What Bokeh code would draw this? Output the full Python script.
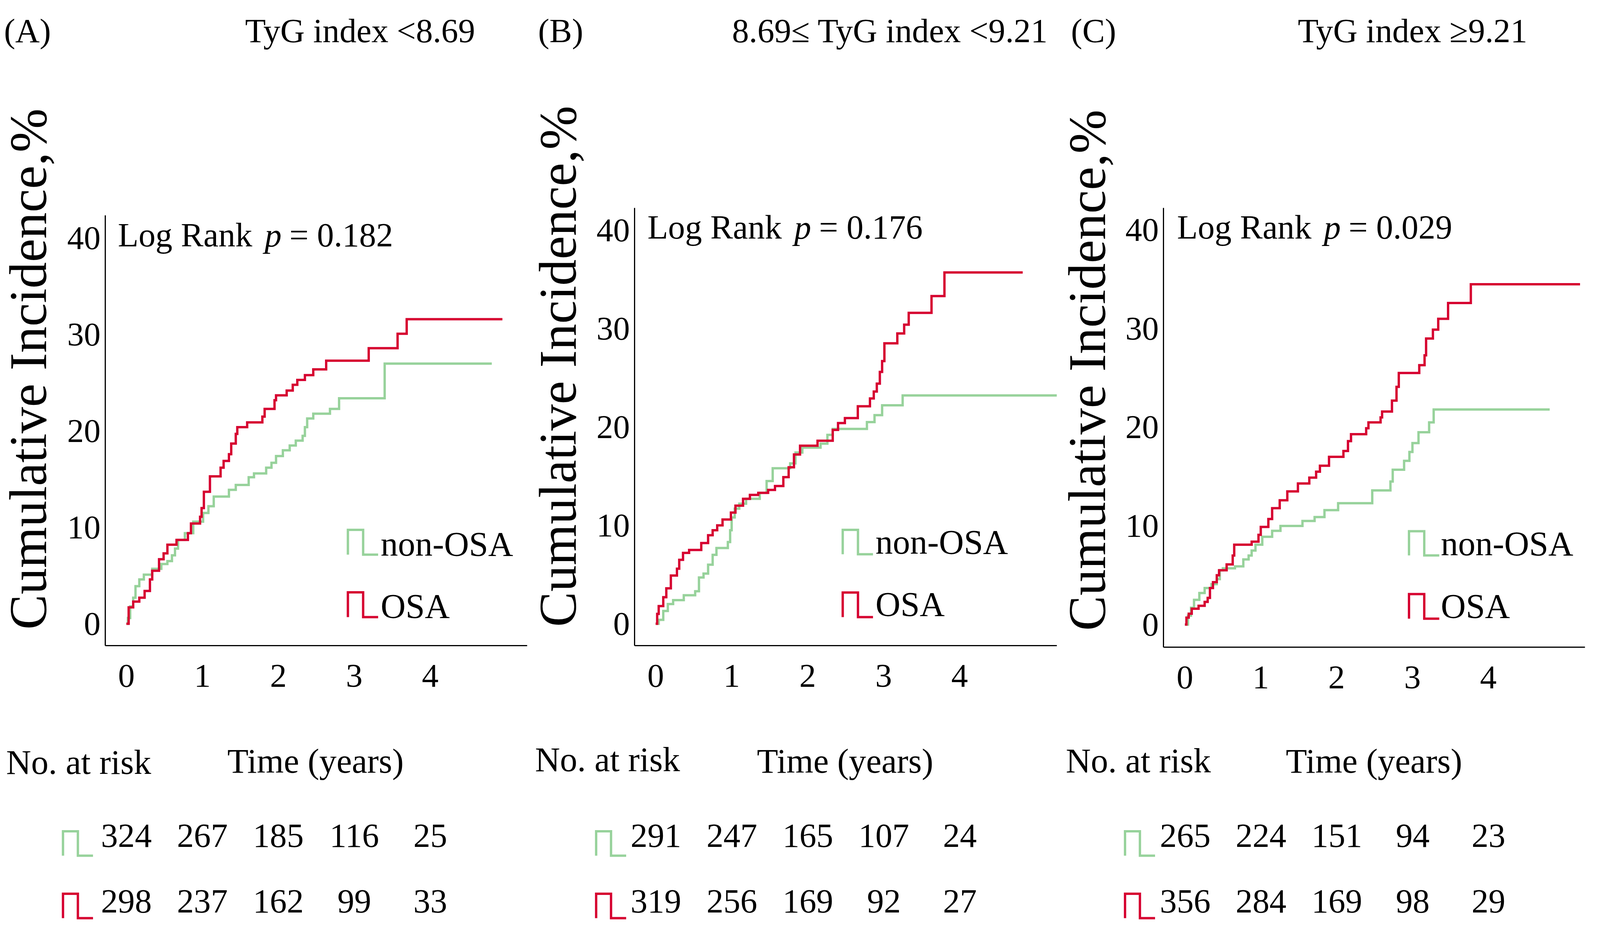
import math
from bokeh.plotting import figure
from bokeh.models import FixedTicker, Range1d
from bokeh.core.properties import value
from bokeh.layouts import row, column
from bokeh.embed import file_html
from bokeh.resources import INLINE

# ---------------- data ----------------
year_ticks = [0, 1, 2, 3, 4]
incidence_ticks = [0, 10, 20, 30, 40]
panel_tags = ["(A)", "(B)", "(C)"]
panel_titles = ["TyG index <8.69", "8.69\u2264 TyG index <9.21", "TyG index \u22659.21"]
p_values = ["0.182", "0.176", "0.029"]
group_names = ["non-OSA", "OSA"]
y_label = "Cumulative Incidence,%"
x_label = "Time (years)"
risk_label = "No. at risk"

# Panel A: TyG < 8.69
a_non_t = [0, 0.02, 0.05, 0.09, 0.12, 0.17, 0.23, 0.34, 0.46, 0.54, 0.60, 0.64, 0.68, 0.77, 0.88, 1.01, 1.08, 1.15,
           1.35, 1.44, 1.61, 1.68, 1.84, 1.91, 1.97, 2.06, 2.15, 2.23, 2.32, 2.35, 2.38, 2.46, 2.68, 2.80, 3.40, 4.81]
a_non_v = [0, 0.6, 1.8, 2.7, 3.9, 4.6, 5.1, 5.7, 6.2, 6.5, 7.1, 7.8, 8.7, 9.4, 10.6, 11.5, 12.2, 13.2,
           13.9, 14.4, 15.2, 15.6, 16.2, 16.7, 17.4, 18.0, 18.5, 19.0, 19.5, 20.4, 21.3, 21.8, 22.3, 23.4, 27.0, 27.0]
a_osa_t = [0, 0.03, 0.09, 0.17, 0.24, 0.31, 0.34, 0.43, 0.49, 0.54, 0.66, 0.81, 0.85, 0.97, 0.99, 1.02, 1.10, 1.24,
           1.28, 1.35, 1.38, 1.44, 1.46, 1.59, 1.79, 1.82, 1.95, 1.97, 2.11, 2.19, 2.25, 2.35, 2.46, 2.63, 3.19, 3.57,
           3.69, 4.95]
a_osa_v = [0, 1.7, 2.3, 2.7, 3.4, 4.6, 5.5, 6.7, 7.3, 8.2, 8.7, 9.4, 10.4, 11.1, 12.0, 13.7, 15.3, 16.2,
           16.9, 17.6, 18.7, 19.7, 20.4, 20.9, 21.5, 22.3, 23.2, 23.7, 24.2, 24.8, 25.3, 25.8, 26.4, 27.3, 28.6, 30.1,
           31.6, 31.6]

# Panel B: 8.69 <= TyG < 9.21
b_non_t = [0, 0.04, 0.10, 0.16, 0.23, 0.37, 0.52, 0.57, 0.63, 0.69, 0.75, 0.80, 0.95, 0.98, 1.00, 1.04, 1.10, 1.19,
           1.37, 1.46, 1.54, 1.77, 1.84, 1.93, 2.17, 2.26, 2.33, 2.78, 2.88, 2.98, 3.25, 5.28]
b_non_v = [0, 0.4, 1.3, 2.0, 2.4, 2.9, 3.3, 4.7, 5.1, 6.0, 7.0, 7.7, 8.3, 9.5, 10.8, 11.7, 12.2, 12.7,
           13.3, 14.5, 15.8, 16.3, 17.4, 17.9, 18.3, 19.2, 19.8, 20.5, 21.2, 22.2, 23.2, 23.2]
b_osa_t = [0, 0.02, 0.04, 0.10, 0.14, 0.20, 0.28, 0.31, 0.36, 0.44, 0.60, 0.69, 0.75, 0.81, 0.88, 0.99, 1.05, 1.15,
           1.24, 1.35, 1.48, 1.57, 1.68, 1.75, 1.82, 1.90, 2.13, 2.33, 2.40, 2.49, 2.66, 2.82, 2.87, 2.91, 2.95, 2.98,
           3.01, 3.18, 3.27, 3.33, 3.63, 3.80, 4.83]
b_osa_v = [0, 1.0, 1.8, 2.7, 3.6, 4.9, 5.6, 6.5, 7.2, 7.5, 8.2, 9.0, 9.5, 10.0, 10.6, 11.3, 12.0, 12.7,
           13.1, 13.3, 13.6, 14.0, 14.9, 15.9, 17.2, 18.1, 18.6, 19.7, 20.4, 20.9, 22.1, 22.9, 23.6, 24.4, 25.6, 26.7,
           28.5, 29.5, 30.4, 31.6, 33.3, 35.7, 35.7]

# Panel C: TyG >= 9.21
c_non_t = [0, 0.04, 0.08, 0.12, 0.19, 0.26, 0.35, 0.42, 0.46, 0.50, 0.66, 0.77, 0.84, 0.88, 0.93, 1.02, 1.15, 1.26,
           1.55, 1.71, 1.84, 2.02, 2.47, 2.71, 2.74, 2.89, 2.96, 3.00, 3.08, 3.22, 3.28, 4.81]
c_non_v = [0, 0.9, 1.7, 2.5, 3.2, 3.7, 4.1, 4.6, 5.5, 5.7, 5.9, 6.6, 7.0, 7.5, 8.1, 8.9, 9.5, 10.0,
           10.5, 10.9, 11.6, 12.3, 13.6, 14.5, 15.7, 16.6, 17.5, 18.4, 19.5, 20.5, 21.8, 21.8]
c_osa_t = [0, 0.02, 0.05, 0.09, 0.18, 0.26, 0.30, 0.33, 0.37, 0.42, 0.45, 0.55, 0.63, 0.65, 0.88, 0.97, 1.00, 1.10,
           1.15, 1.25, 1.35, 1.49, 1.64, 1.73, 1.78, 1.90, 2.09, 2.15, 2.19, 2.39, 2.42, 2.58, 2.60, 2.73, 2.79, 2.82,
           3.09, 3.16, 3.18, 3.27, 3.34, 3.47, 3.77, 5.21]
c_osa_v = [0, 0.7, 1.1, 1.6, 1.9, 2.3, 2.7, 3.7, 4.3, 5.0, 5.5, 6.1, 7.0, 8.1, 8.4, 9.1, 9.9, 10.7,
           11.8, 12.6, 13.5, 14.3, 14.9, 15.5, 16.1, 17.0, 17.6, 18.6, 19.3, 19.9, 20.5, 21.0, 21.6, 22.7, 24.1, 25.5,
           26.3, 27.3, 29.0, 29.9, 31.0, 32.6, 34.5, 34.5]

risk_a_non = [324, 267, 185, 116, 25]
risk_a_osa = [298, 237, 162, 99, 33]
risk_b_non = [291, 247, 165, 107, 24]
risk_b_osa = [319, 256, 169, 92, 27]
risk_c_non = [265, 224, 151, 94, 23]
risk_c_osa = [356, 284, 169, 98, 29]

curves = [
    ((a_non_t, a_non_v), (a_osa_t, a_osa_v)),
    ((b_non_t, b_non_v), (b_osa_t, b_osa_v)),
    ((c_non_t, c_non_v), (c_osa_t, c_osa_v)),
]
risks = [(risk_a_non, risk_a_osa), (risk_b_non, risk_b_osa), (risk_c_non, risk_c_osa)]

# ---------------- style / layout ----------------
FONT = "Liberation Serif"
GREEN = "#97D29B"
RED = "#D60030"
COLORS = [GREEN, RED]
SX = 0.61          # horizontal scale: the viewport the page is shown in is narrower than 6693 px
PW = 2225          # panel width (reference pixels)
LW = 250           # y-label strip width (reference pixels)
TOP = 8            # page margin
MAIN_BOTTOM = 1900  # y where the risk strip starts
PAGE_BOTTOM = 2402
FS = 142           # reference font size
FY = 135           # y-label font size (its length runs along the unscaled vertical)
SHIFT = 0.33       # baseline correction (fraction of font size)


def R(v):
    return int(round(v))


def fsz(size):
    return round(size * SX, 1)


GEOM = [
    dict(fig_left=8, fl=449, fr=2220, ft=559, fb=1661, x0=537.6, pxyr=318.9, y0=1605, pxu=24.68,
         tag_x=24, title_x=1036, lr_x=502, lr_base=656, leg_x=1467.5, leg_tx=1605,
         leg_top=[1364.5, 1524.5], leg_bot=[1428, 1588], leg_base=[1448, 1607],
         ylab_x=177, ylab_y=1700, rsym=-266, nar_x=33, nar_base=2015),
    dict(fig_left=2233, fl=2672, fr=4444, ft=540, fb=1661, x0=2760.5, pxyr=318.9, y0=1605, pxu=25.2,
         tag_x=2266, title_x=3081, lr_x=2726, lr_base=636, leg_x=3545.5, leg_tx=3683,
         leg_top=[1364.5, 1525], leg_bot=[1427, 1588], leg_base=[1443, 1602],
         ylab_x=2399, ylab_y=1693, rsym=-251, nar_x=2253, nar_base=2008),
    dict(fig_left=4458, fl=4892, fr=6661, ft=540, fb=1665, x0=4982, pxyr=318.3, y0=1607, pxu=25.26,
         tag_x=4503, title_x=5456, lr_x=4949, lr_base=636, leg_x=5922.5, leg_tx=6056,
         leg_top=[1368, 1529], leg_bot=[1430, 1592], leg_base=[1447, 1607],
         ylab_x=4622, ylab_y=1703, rsym=-252.5, nar_x=4481, nar_base=2011),
]


def blank_fig(w, h, xr, yr):
    f = figure(width=w, height=h, output_backend="svg", toolbar_location=None,
               x_range=xr, y_range=yr, x_axis_type=None, y_axis_type=None, min_border=0)
    f.outline_line_color = None
    f.grid.visible = False
    f.background_fill_color = "white"
    f.border_fill_color = "white"
    return f


def txt(fig, xs, ys, texts, size, align="left", style="normal", angle=0.0):
    fig.text(x=xs, y=ys, text=texts, text_font=value(FONT), text_font_size=value(f"{size}px"),
             text_align=align, text_baseline="alphabetic", text_font_style=style, angle=angle,
             text_color="black")


def make_panel(i):
    g = GEOM[i]
    FL = g["fig_left"]
    X = lambda ix: (ix - g["x0"]) / g["pxyr"]
    Y = lambda iy: (g["y0"] - iy) / g["pxu"]
    B = lambda base, size=FS: base - SHIFT * size  # anchor that keeps the text's vertical centre
    MH = MAIN_BOTTOM - TOP

    lab_w = R(SX * LW)
    main_w = R(SX * (PW - LW))
    panel_w = lab_w + main_w

    # ---- left strip: panel tag and rotated y label
    lab = blank_fig(lab_w, MH, Range1d(FL, FL + LW), Range1d(MAIN_BOTTOM, TOP))
    txt(lab, [g["tag_x"]], [B(133)], [panel_tags[i]], fsz(FS))
    txt(lab, [g["ylab_x"] - 50], [g["ylab_y"] - 747 + 4.94 * FY], [y_label], FY, angle=math.pi / 2)

    # ---- main plot
    left_b = R(SX * (g["fl"] - FL - LW))
    frame_w = R(SX * (g["fr"] - g["fl"]))
    right_b = main_w - left_b - frame_w
    p = figure(width=main_w, height=MH, output_backend="svg", toolbar_location=None,
               x_range=Range1d(X(g["fl"]), X(g["fr"])), y_range=Range1d(Y(g["fb"]), Y(TOP)),
               min_border_left=left_b, min_border_right=right_b,
               min_border_top=0, min_border_bottom=MAIN_BOTTOM - g["fb"])
    p.outline_line_color = None
    p.grid.visible = False
    p.background_fill_color = "white"
    p.border_fill_color = "white"
    for ax in (p.xaxis[0], p.yaxis[0]):
        ax.axis_line_width = 3
        ax.axis_line_color = "black"
        ax.major_tick_line_color = None
        ax.minor_tick_line_color = None
        ax.major_tick_in = 0
        ax.major_tick_out = 0
        ax.major_label_text_font = FONT
        ax.major_label_text_font_size = f"{fsz(140)}px"
        ax.major_label_text_color = "black"
    p.xaxis.ticker = FixedTicker(ticks=year_ticks)
    p.yaxis.ticker = FixedTicker(ticks=incidence_ticks)
    p.yaxis.bounds = (Y(g["fb"]), Y(g["ft"]))
    p.xaxis.major_label_standoff = 49
    p.yaxis.major_label_standoff = R(20 * SX)

    for (t, v), col in zip(curves[i], COLORS):
        p.step(x=t, y=v, mode="after", line_color=col, line_width=6, line_join="miter")

    # title
    txt(p, [X(g["title_x"])], [Y(B(133))], [panel_titles[i]], fsz(FS))
    # log rank
    lb = Y(B(g["lr_base"]))
    txt(p, [X(g["lr_x"])], [lb], ["Log Rank"], fsz(FS))
    txt(p, [X(g["lr_x"] + 616)], [lb], ["p"], fsz(FS), style="italic")
    txt(p, [X(g["lr_x"] + 720)], [lb], ["= " + p_values[i]], fsz(FS))
    # legend
    for k in range(2):
        L = g["leg_x"]
        xs = [L, L, L + 64, L + 64, L + 127]
        ys = [g["leg_bot"][k], g["leg_top"][k], g["leg_top"][k], g["leg_bot"][k], g["leg_bot"][k]]
        p.line([X(a) for a in xs], [Y(b) for b in ys], line_color=COLORS[k], line_width=6,
               line_join="miter", line_cap="butt")
    txt(p, [X(g["leg_tx"])] * 2, [Y(B(g["leg_base"][0], 145)), Y(B(g["leg_base"][1], 145))],
        group_names, fsz(145))

    # ---- risk table strip (x in years, y in reference pixels)
    rk = blank_fig(panel_w, PAGE_BOTTOM - MAIN_BOTTOM, Range1d(X(FL), X(FL + PW)),
                   Range1d(PAGE_BOTTOM, MAIN_BOTTOM))
    txt(rk, [X(g["nar_x"])], [B(g["nar_base"], 145) - 8], [risk_label], fsz(145))
    txt(rk, [2.49], [B(2012, 145) - 8], [x_label], fsz(145), align="center")
    row_top = [2136.5, 2296.5]
    row_bot = [2199, 2359]
    row_base = [2205, 2373]
    for k in range(2):
        L = g["x0"] + g["rsym"]
        xs = [L, L, L + 62.5, L + 62.5, L + 126]
        ys = [row_bot[k], row_top[k], row_top[k], row_bot[k], row_bot[k]]
        rk.line([X(a) for a in xs], ys, line_color=COLORS[k], line_width=6, line_join="miter", line_cap="butt")
        txt(rk, year_ticks, [B(row_base[k]) - 10] * len(year_ticks), [str(n) for n in risks[i][k]],
            fsz(FS), align="center")

    # wrap the strip in its own column so the row does not align its frame with the plot's frame
    return column(row(column(lab), p), rk)


layout = row(*[make_panel(i) for i in range(3)])
open("out.html", "w").write(file_html(layout, INLINE))
